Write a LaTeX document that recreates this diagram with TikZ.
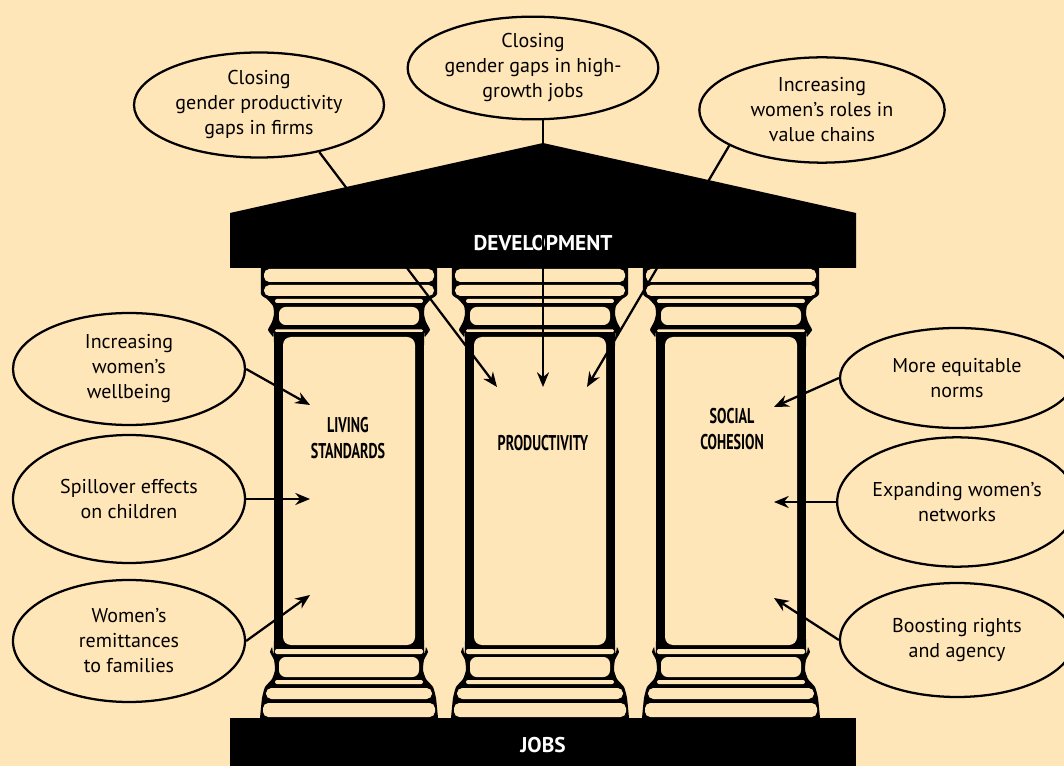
\documentclass[tikz,border=0pt]{standalone}
\usepackage{fontspec,xcolor}
\setmainfont{PT Sans}
\newfontfamily\pillarfont[FakeStretch=0.66]{PT Sans}
\usetikzlibrary{arrows.meta}
\usetikzlibrary{shapes.geometric}
\definecolor{parchment}{RGB}{255,230,184}

\begin{document}
\begin{tikzpicture}[>={Stealth[length=11pt,width=9pt]},x=0.75pt,y=-0.75pt,
		goal/.style={draw,ellipse,line width=1.7pt,fill=parchment,inner sep=0pt,align=center,font=\fontsize{15}{18.75}\selectfont},
		pillar/.style={align=center,font=\pillarfont\bfseries\fontsize{16}{19.5}\selectfont},
		beam/.style={text=white,font=\bfseries\fontsize{16}{18}\selectfont},
		link/.style={line width=1.7pt,->},
		band/.style={fill=parchment}]
			\useasboundingbox (0,0) rectangle (1064,766);
			\fill[parchment] (0,0) rectangle (1064,766);
			\foreach \cx in {349,540,731}{
				\begin{scope}[shift={(\cx,0)}]
					\fill plot[smooth,tension=0.3] coordinates {(88,268) (88,294) (82,299) (76,306) (75,314) (77,322) (81,330) (76,337) (75,343) (75,641) (77,647) (79,652) (75,660) (74,670) (77,679) (84,687) (87,698) (89,718)}
					-- plot[smooth,tension=0.3] coordinates {(-89,718) (-87,698) (-84,687) (-77,679) (-74,670) (-75,660) (-79,652) (-77,647) (-75,641) (-75,343) (-76,337) (-81,330) (-77,322) (-75,314) (-76,306) (-82,299) (-88,294) (-88,268)} -- cycle;
					\fill[band,rounded corners=4pt] (-85,269) rectangle (85,282);
					\fill[band,rounded corners=4pt] (-85,285) rectangle (85,296);
					\fill[band,rounded corners=1.5pt] (-74,299) rectangle (74,303);
					\fill[band,rounded corners=5pt] (-70,307) rectangle (70,325);
					\fill[band,rounded corners=0.8pt] (-74,329.5) rectangle (74,332);
					\fill[band,rounded corners=6pt] (-66,337) rectangle (66,645);
					\fill[band,rounded corners=1.5pt] (-74,649) rectangle (74,654);
					\fill[band,rounded corners=5pt] (-70,657) rectangle (70,677);
					\fill[band,rounded corners=1.5pt] (-74,680) rectangle (74,684);
					\fill[band,rounded corners=4pt] (-83,688) rectangle (83,699);
					\fill[band,rounded corners=4pt] (-86,703) rectangle (86,717);
				\end{scope}
			}
			\fill (230,268) -- (230,213) -- (543,143) -- (856,213) -- (856,268) -- cycle;
			\node[beam] (devel) at (543,243) {DEVELOPMENT};
			\fill (230,718) rectangle (856,766);
			\node[beam] (jobs) at (543,745) {JOBS};
			\node[pillar] (living) at (348,438) {LIVING\\STANDARDS};
			\node[pillar] (prod) at (543,443) {PRODUCTIVITY};
			\node[pillar] (social) at (732,429) {SOCIAL\\COHESION};
			\node[goal,minimum width=187.5pt,minimum height=78.75pt] (gapfirms) at (259,105) {Closing\\gender productivity\\gaps in firms};
			\node[goal,minimum width=188pt,minimum height=77pt] (highgrowth) at (533,68) {Closing\\gender gaps in high-\\growth jobs};
			\node[goal,minimum width=184pt,minimum height=79pt] (valuechains) at (822,110) {Increasing\\women’s roles in\\value chains};
			\node[goal,minimum width=174pt,minimum height=84pt] (wellbeing) at (129,369) {Increasing\\women’s\\wellbeing};
			\node[goal,minimum width=174pt,minimum height=96pt] (spillover) at (129,499) {Spillover effects\\on children};
			\node[goal,minimum width=174pt,minimum height=91.5pt] (remittances) at (129,641) {Women’s\\remittances\\to families};
			\node[goal,minimum width=175.5pt,minimum height=75pt] (norms) at (957,378) {More equitable\\norms};
			\node[goal,minimum width=175.5pt,minimum height=97pt] (networks) at (957,502) {Expanding women’s\\networks};
			\node[goal,minimum width=175.5pt,minimum height=85.5pt] (agency) at (957,640) {Boosting rights\\and agency};
			\coordinate (tipP1) at (497,387);
			\coordinate (tipP2) at (543,387);
			\coordinate (tipP3) at (587,387);
			\coordinate (tipL1) at (310,405);
			\coordinate (tipL2) at (310,499);
			\coordinate (tipL3) at (310,595);
			\coordinate (tipS1) at (774,407);
			\coordinate (tipS2) at (774,502);
			\coordinate (tipS3) at (774,598);
			\draw[link] (gapfirms.-38) -- (tipP1);
			\draw[link] (highgrowth.south -| tipP2) -- (tipP2);
			\draw[link] (valuechains.201) -- (tipP3);
			\draw[link] (wellbeing.east) -- (tipL1);
			\draw[link] (spillover.east) -- (tipL2);
			\draw[link] (remittances.east) -- (tipL3);
			\draw[link] (norms.west) -- (tipS1);
			\draw[link] (networks.west) -- (tipS2);
			\draw[link] (agency.west) -- (tipS3);
		\end{tikzpicture}
\end{document}
